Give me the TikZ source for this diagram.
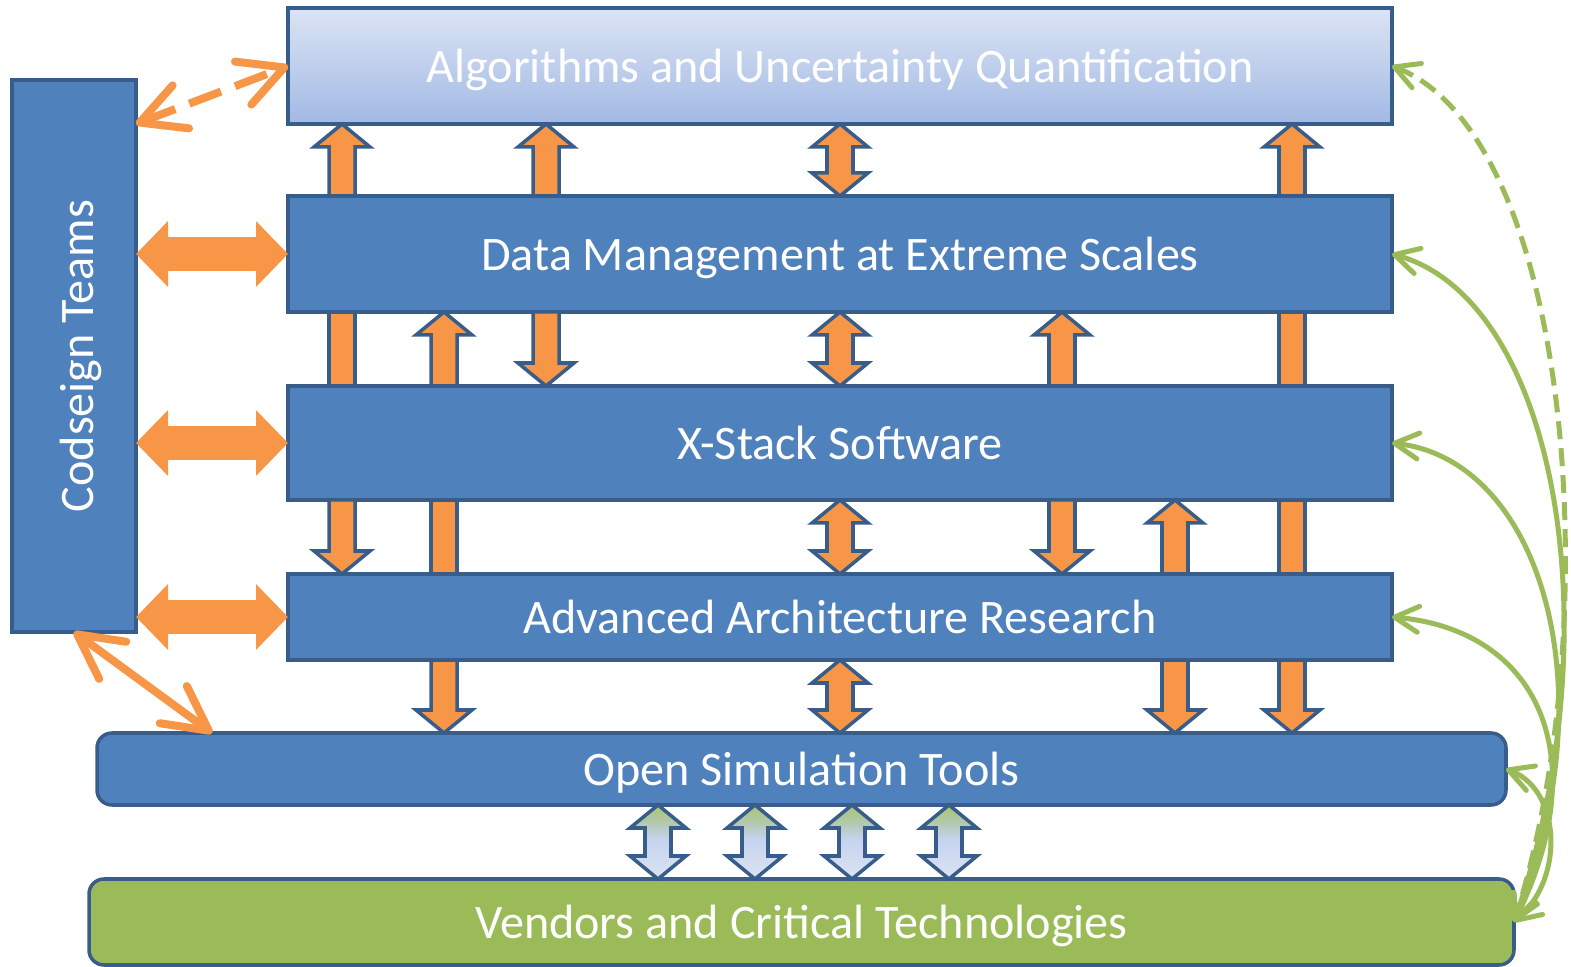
\documentclass[tikz,border=0pt]{standalone}
\usepackage{graphicx}
\usepackage{fontspec}
\setmainfont{Carlito}
\usetikzlibrary{arrows.meta,calc}

\definecolor{boxfill}{HTML}{4F81BD}
\definecolor{boxline}{HTML}{385D8A}
\definecolor{orangefill}{HTML}{F79646}
\definecolor{vendgreen}{HTML}{9BBB59}
\definecolor{algtop}{HTML}{DCE4F3}
\definecolor{algbottom}{HTML}{A2B9E5}
\definecolor{palefill}{HTML}{C5D3EE}

% green at the tip, pale blue below (path spans 25bp..75bp)
\pgfdeclareverticalshading{vendfade}{100bp}{color(0bp)=(algtop); color(25bp)=(algtop);
  color(52bp)=(palefill); color(64bp)=(palefill!55!vendgreen); color(75bp)=(vendgreen!85!white);
  color(100bp)=(vendgreen!85!white)}

\tikzset{
  shaft/.style={draw=boxline, fill=orangefill, line width=1pt,
    to path={let \p1=(\tikztostart), \p2=(\tikztotarget) in
      ({\x1-1.3mm},\y1) rectangle ({\x1+1.3mm},\y2)}},
  oneway/.style={draw=boxline, fill=orangefill, line width=1pt,
    to path={let \p1=(\tikztostart), \p2=(\tikztotarget), \n1={sign(\y2-\y1)} in
      ({\x1-1.3mm},\y1) -- ({\x1-1.3mm},{\y2-(\n1)*2.3mm}) -- ({\x1-2.8mm},{\y2-(\n1)*2.3mm})
      -- (\x1,\y2) -- ({\x1+2.8mm},{\y2-(\n1)*2.3mm}) -- ({\x1+1.3mm},{\y2-(\n1)*2.3mm})
      -- ({\x1+1.3mm},\y1) -- cycle}},
  twoway/.style={draw=boxline, fill=orangefill, line width=1pt,
    to path={let \p1=(\tikztostart), \p2=(\tikztotarget), \n1={sign(\y2-\y1)} in
      (\x1,\y1) -- ({\x1+2.8mm},{\y1+(\n1)*2.3mm}) -- ({\x1+1.3mm},{\y1+(\n1)*2.3mm})
      -- ({\x1+1.3mm},{\y2-(\n1)*2.3mm}) -- ({\x1+2.8mm},{\y2-(\n1)*2.3mm}) -- (\x1,\y2)
      -- ({\x1-2.8mm},{\y2-(\n1)*2.3mm}) -- ({\x1-1.3mm},{\y2-(\n1)*2.3mm})
      -- ({\x1-1.3mm},{\y1+(\n1)*2.3mm}) -- ({\x1-2.8mm},{\y1+(\n1)*2.3mm}) -- cycle}},
  vendway/.style={twoway, shading=vendfade},
  wide/.style={draw=orangefill, line width=3.4mm,
    {Triangle[length=3.2mm,width=6.4mm]}-{Triangle[length=3.2mm,width=6.4mm]}}
}

\begin{document}
\begin{tikzpicture}[x=0.1mm, y=-0.1mm]
    \useasboundingbox (0,0) rectangle (1571,967);

    % layers
    \begin{scope}[every node/.style={rectangle, draw=boxline, line width=1pt, fill=boxfill,
            text=white, outer sep=0pt, inner sep=0pt, text depth=0pt, font=\fontsize{13.7}{16}\selectfont}]
        \node[minimum width=110.4mm, minimum height=11.6mm, top color=algtop, bottom color=algbottom]
            (alg) at (840,66) {Algorithms and Uncertainty Quantification};
        \node[minimum width=110.4mm, minimum height=11.6mm] (dm) at (840,254) {Data Management at Extreme Scales};
        \node[minimum width=110.4mm, minimum height=11.4mm] (xs) at (840,443) {X-Stack Software};
        \node[minimum width=110.4mm, minimum height=8.6mm] (aar) at (840,617) {Advanced Architecture Research};
        \node[minimum width=140.9mm, minimum height=7.2mm, rounded corners=1.5mm] (ost) at (801.5,769) {Open Simulation Tools};
        \node[minimum width=142.5mm, minimum height=8.6mm, rounded corners=1.5mm, fill=vendgreen]
            (vend) at (801.5,922) {Vendors and Critical Technologies};
        \node[minimum width=12.4mm, minimum height=55.2mm, text depth=]
            (cod) at (74,356) {\hspace{1.4mm}\rotatebox{90}{Codseign Teams}};
    \end{scope}

    % block arrows between the layers
    \path ([xshift=5.4mm]dm.north west) edge[oneway] ([xshift=5.4mm]alg.south west);
    \path ([xshift=25.8mm]dm.north west) edge[oneway] ([xshift=25.8mm]alg.south west);
    \path ([xshift=55.2mm]alg.south west) edge[twoway] ([xshift=55.2mm]dm.north west);
    \path ([xshift=100.4mm]dm.north west) edge[oneway] ([xshift=100.4mm]alg.south west);

    \path ([xshift=5.4mm]dm.south west) edge[shaft] ([xshift=5.4mm]xs.north west);
    \path ([xshift=15.6mm]xs.north west) edge[oneway] ([xshift=15.6mm]dm.south west);
    \path ([xshift=25.8mm]dm.south west) edge[oneway] ([xshift=25.8mm]xs.north west);
    \path ([xshift=55.2mm]dm.south west) edge[twoway] ([xshift=55.2mm]xs.north west);
    \path ([xshift=77.4mm]xs.north west) edge[oneway] ([xshift=77.4mm]dm.south west);
    \path ([xshift=100.4mm]dm.south west) edge[shaft] ([xshift=100.4mm]xs.north west);

    \path ([xshift=5.4mm]xs.south west) edge[oneway] ([xshift=5.4mm]aar.north west);
    \path ([xshift=15.6mm]xs.south west) edge[shaft] ([xshift=15.6mm]aar.north west);
    \path ([xshift=55.2mm]xs.south west) edge[twoway] ([xshift=55.2mm]aar.north west);
    \path ([xshift=77.4mm]xs.south west) edge[oneway] ([xshift=77.4mm]aar.north west);
    \path ([xshift=88.7mm]aar.north west) edge[oneway] ([xshift=88.7mm]xs.south west);
    \path ([xshift=100.4mm]xs.south west) edge[shaft] ([xshift=100.4mm]aar.north west);

    \path ([xshift=15.6mm]aar.south west) edge[oneway] ([xshift=34.7mm]ost.north west);
    \path ([xshift=55.2mm]aar.south west) edge[twoway] ([xshift=74.3mm]ost.north west);
    \path ([xshift=88.7mm]aar.south west) edge[oneway] ([xshift=107.8mm]ost.north west);
    \path ([xshift=100.4mm]aar.south west) edge[oneway] ([xshift=119.5mm]ost.north west);

    \foreach \dx in {56.1,65.8,75.5,85.2}
        \path ([xshift=\dx mm]ost.south west) edge[vendway] ([xshift=\dx mm]vend.north west);

    % codesign links
    \draw[wide] (dm.west -| cod.east) -- (dm.west);
    \draw[wide] (xs.west -| cod.east) -- (xs.west);
    \draw[wide] (aar.west -| cod.east) -- (aar.west);

    \begin{scope}[>={Straight Barb[length=4.4mm,width=4.6mm,round]},
            every path/.style={draw=orangefill, line width=0.8mm}]
        \draw[<->, dash pattern=on 3.4mm off 1.5mm] ([yshift=-4.4mm]cod.north east) -- (alg.west);
        \draw[<->] (cod.south) -- ([xshift=11.5mm]ost.north west);
    \end{scope}

    % vendor feedback
    \begin{scope}[>={Straight Barb[length=2.4mm,width=2.6mm,round]},
            every path/.style={draw=vendgreen, line width=0.5mm}]
        \draw[<->, dash pattern=on 1.8mm off 0.9mm] (alg.east) .. controls +(180,70) and +(95,-300) .. (vend.east);
        \draw[<->] (dm.east) .. controls +(165,45) and +(100,-290) .. (vend.east);
        \draw[<->] (xs.east) .. controls +(150,17) and +(95,-230) .. (vend.east);
        \draw[<->] (aar.east) .. controls +(147,13) and +(82,-165) .. (vend.east);
        \draw[<->] (ost.east) .. controls +(54,20) and +(52,-45) .. (vend.east);
    \end{scope}
\end{tikzpicture}
\end{document}
